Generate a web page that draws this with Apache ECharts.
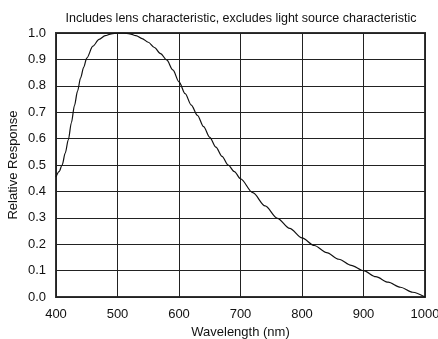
<!DOCTYPE html>
<html>
<head>
<meta charset="utf-8">
<script src="https://cdn.jsdelivr.net/npm/echarts@6/dist/echarts.min.js"></script>
<style>html,body{margin:0;padding:0;background:#fff}#c{width:438px;height:339px}</style>
</head>
<body>
<div id="c"></div>
<script>
var wavelengths = [400,405,410,415,420,425,430,435,440,445,450,460,470,480,490,500,510,520,530,540,550,560,570,580,590,600,610,620,630,640,650,660,670,680,690,700,720,740,760,780,800,820,840,860,880,900,920,940,960,980,1000];
var response = [0.455,0.475,0.50,0.545,0.595,0.66,0.725,0.78,0.83,0.87,0.905,0.950,0.976,0.990,0.997,1.000,1.000,0.997,0.99,0.979,0.965,0.945,0.922,0.898,0.86,0.815,0.77,0.727,0.688,0.645,0.605,0.568,0.533,0.50,0.475,0.448,0.395,0.345,0.298,0.26,0.224,0.195,0.168,0.143,0.12,0.10,0.077,0.056,0.037,0.018,0.0];
var titleText = 'Includes lens characteristic, excludes light source characteristic';
var xName = 'Wavelength (nm)';
var yName = 'Relative Response';

var data = wavelengths.map(function(w,i){return [w, response[i]];});
var chart = echarts.init(document.getElementById('c'));
chart.setOption({
  animation: false,
  textStyle: {fontFamily: 'Liberation Sans, Arial, sans-serif'},
  title: {
    text: titleText, left: 236, top: 7, textAlign: 'center',
    textStyle: {fontSize: 12.5, fontWeight: 'normal', color: '#111', fontFamily: 'Liberation Sans, Arial, sans-serif'}
  },
  grid: {left: 56, right: 13, top: 33, bottom: 42, outerBoundsMode: 'none', containLabel: false, show: true, borderColor: '#333', borderWidth: 2, backgroundColor: 'transparent'},
  xAxis: {
    type: 'value', min: 400, max: 1000, interval: 100,
    name: xName, nameLocation: 'middle', nameGap: 27,
    nameTextStyle: {fontSize: 13, color: '#111'},
    axisLine: {show: false}, axisTick: {show: false},
    axisLabel: {fontSize: 13, color: '#111', margin: 11, formatter: function(v){return String(v);}},
    splitLine: {show: true, lineStyle: {color: '#222', width: 1}}
  },
  yAxis: {
    type: 'value', min: 0, max: 1, interval: 0.1,
    name: yName, nameLocation: 'middle', nameGap: 36, nameRotate: 90, nameMoveOverlap: false,
    nameTextStyle: {fontSize: 13, color: '#111'},
    axisLine: {show: false}, axisTick: {show: false},
    axisLabel: {fontSize: 13, color: '#111', margin: 10, formatter: function(v){return v.toFixed(1);}},
    splitLine: {show: true, lineStyle: {color: '#222', width: 1}}
  },
  series: [{
    type: 'line', data: data, smooth: 0.3, smoothMonotone: 'x', showSymbol: false,
    lineStyle: {color: '#111', width: 1.2}
  }]
});
</script>
</body>
</html>
